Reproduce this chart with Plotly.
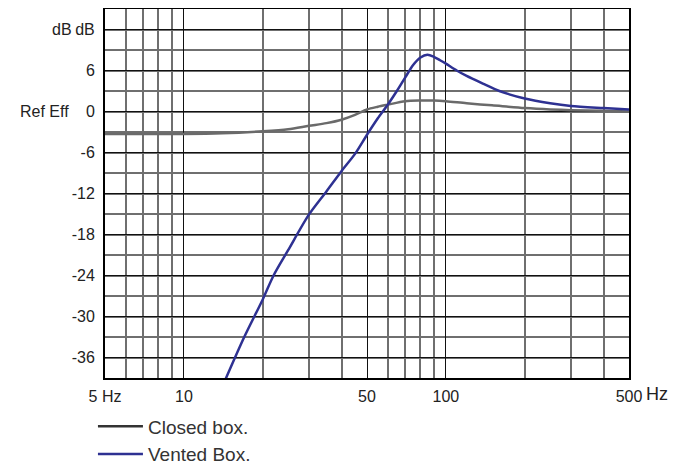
import plotly.graph_objects as go

# Data
closed_f = [5, 7, 10, 14, 20, 25, 30, 35, 40, 45, 50, 55, 60, 70, 80, 90, 100, 120, 150, 200, 250, 300, 400, 500]
closed_db = [-3.3, -3.3, -3.3, -3.2, -2.9, -2.6, -2.1, -1.7, -1.2, -0.5, 0.3, 0.7, 1.0, 1.5, 1.6, 1.6, 1.5, 1.2, 0.9, 0.5, 0.3, 0.2, 0.1, 0.0]

vented_f = [14.3, 17, 20, 22, 25, 30, 35, 40, 45, 50, 55, 60, 65, 70, 75, 80, 85, 90, 95, 100, 110, 120, 140, 160, 200, 250, 300, 400, 500]
vented_db = [-39.5, -33, -27.5, -24, -20.3, -15.1, -11.7, -8.7, -6.2, -3.4, -1.0, 1.0, 3.0, 5.0, 6.8, 7.9, 8.3, 8.0, 7.5, 7.0, 6.0, 5.2, 4.0, 3.0, 1.9, 1.2, 0.8, 0.5, 0.3]

x_tickvals = [5, 10, 50, 100, 500]
x_ticktext = ["5 Hz", "10", "50", "100", "500"]
x_minor = [6, 7, 8, 9, 20, 30, 40, 60, 70, 80, 90, 200, 300, 400]
y_tickvals = [12, 6, 0, -6, -12, -18, -24, -30, -36]
y_ticktext = ["dB", "6", "0", "-6", "-12", "-18", "-24", "-30", "-36"]

legend_names = ["Closed box.", "Vented Box."]
legend_colors = ["#333333", "#2e3192"]

FONT = "Liberation Sans Narrow, Liberation Sans, Arial"

fig = go.Figure()
fig.add_trace(go.Scatter(x=closed_f, y=closed_db, mode="lines", line=dict(color="#6a6a6a", width=2.5, shape="spline", smoothing=0.8),
                         showlegend=False, name=legend_names[0]))
fig.add_trace(go.Scatter(x=vented_f, y=vented_db, mode="lines", line=dict(color="#2e3192", width=2.5, shape="spline", smoothing=0.8),
                         showlegend=False, name=legend_names[1]))
for n, c in zip(legend_names, legend_colors):
    fig.add_trace(go.Scatter(x=[None], y=[None], mode="lines", line=dict(color=c, width=2.5), name=n))

fig.update_xaxes(type="log", range=[0.69897, 2.69897], tickvals=x_tickvals, ticktext=x_ticktext,
                 showgrid=True, gridcolor="#111111", gridwidth=1.2,
                 minor=dict(tickvals=x_minor, showgrid=True, gridcolor="#6f6f6f", gridwidth=1.6),
                 showline=True, linecolor="black", linewidth=2, mirror=True, ticks="", zeroline=False,
                 automargin=False, ticklabelstandoff=3,
                 tickfont=dict(family=FONT, size=16, color="#222222"))
fig.update_yaxes(range=[-39, 15], tickvals=y_tickvals, ticktext=y_ticktext,
                 showgrid=True, gridcolor="#111111", gridwidth=1.2,
                 minor=dict(dtick=3, tick0=0, showgrid=True, gridcolor="#6f6f6f", gridwidth=1.6),
                 showline=True, linecolor="black", linewidth=2, mirror=True, ticks="", zeroline=False,
                 automargin=False, ticklabelstandoff=5,
                 tickfont=dict(family=FONT, size=16, color="#222222"))

fig.add_annotation(text="Hz", xref="paper", yref="paper", x=1.0, y=0, xanchor="center", yanchor="middle",
                   xshift=28, yshift=-16,
                   showarrow=False, font=dict(family="Liberation Sans, Arial", size=18, color="#222222"))
fig.add_annotation(text="dB", xref="paper", yref="y", x=0, y=12, xanchor="center", yanchor="middle",
                   xshift=-43, showarrow=False,
                   font=dict(family="Liberation Sans, Arial", size=16, color="#222222"))
fig.add_annotation(text="Ref Eff", xref="paper", yref="y", x=0, y=0, xanchor="center", yanchor="middle",
                   xshift=-61, showarrow=False,
                   font=dict(family="Liberation Sans, Arial", size=16, color="#222222"))

# page body has an 8px margin, so the figure is shifted by 8px right and down
fig.update_layout(width=686, height=470, margin=dict(l=97, r=65, t=1, b=100, autoexpand=False),
                  paper_bgcolor="white", plot_bgcolor="white",
                  legend=dict(x=-0.023, y=-0.08, xanchor="left", yanchor="top",
                              font=dict(family="Liberation Sans, Arial", size=19, color="#333333"),
                              tracegroupgap=0, itemwidth=45, bgcolor="rgba(0,0,0,0)"))

fig.write_html("out.html")
